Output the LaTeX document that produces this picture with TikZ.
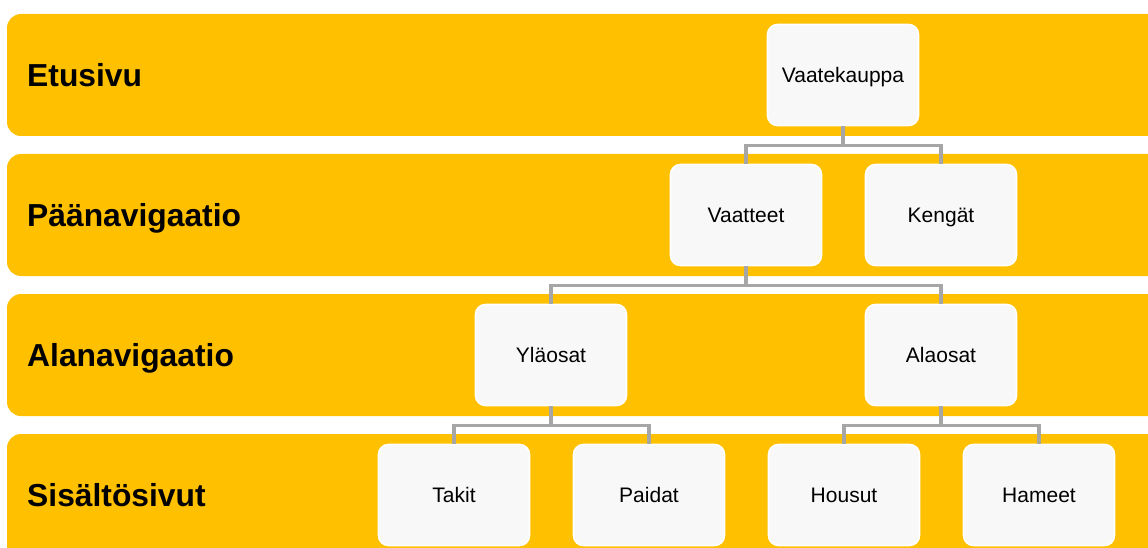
\documentclass[tikz,border=0pt]{standalone}
\usepackage{fontspec}
\setmainfont{Liberation Sans}
\begin{document}
\begin{tikzpicture}[x=1pt,y=-1pt,
  band/.style={fill=bandyellow, draw=none, rounded corners=14pt},
  bandlabel/.style={anchor=west, font=\fontsize{31.8}{36}\selectfont\bfseries, inner sep=0pt,
    text height=23pt, text depth=0pt},
  item/.style={fill=boxfill, draw=white, line width=1.6pt, rounded corners=10pt,
    minimum width=151pt, minimum height=101pt, inner sep=0pt,
    text height=15pt, text depth=0pt,
    font=\fontsize{21}{24}\selectfont},
  link/.style={draw=linkgray, line width=3.4pt}]
\definecolor{bandyellow}{HTML}{FFC000}
\definecolor{boxfill}{HTML}{F8F8F8}
\definecolor{linkgray}{HTML}{A6A6A6}
\useasboundingbox (0,0) rectangle (1148,548);
\clip (0,0) rectangle (1148,548);

% level bands
\fill[band] (7,14) rectangle (1175,136);
\fill[band] (7,154) rectangle (1175,276);
\fill[band] (7,294) rectangle (1175,416);
\fill[band] (7,434) rectangle (1175,560);

\node[bandlabel] (l1) at (27,75) {Etusivu};
\node[bandlabel] (l2) at (27,215) {Päänavigaatio};
\node[bandlabel] (l3) at (27,355) {Alanavigaatio};
\node[bandlabel] (l4) at (27,495) {Sisältösivut};

% hierarchy nodes
\node[item] (root) at (843,75) {Vaatekauppa};
\node[item] (vaatteet) at (746,215) {Vaatteet};
\node[item] (kengat) at (941,215) {Kengät};
\node[item] (ylaosat) at (551,355) {Yläosat};
\node[item] (alaosat) at (941,355) {Alaosat};
\node[item] (takit) at (454,495) {Takit};
\node[item] (paidat) at (649,495) {Paidat};
\node[item] (housut) at (844,495) {Housut};
\node[item] (hameet) at (1039,495) {Hameet};

% connectors
\draw[link] (root.south) -- ++(0,19) -| (vaatteet.north);
\draw[link] (root.south) -- ++(0,19) -| (kengat.north);
\draw[link] (vaatteet.south) -- ++(0,19) -| (ylaosat.north);
\draw[link] (vaatteet.south) -- ++(0,19) -| (alaosat.north);
\draw[link] (ylaosat.south) -- ++(0,19) -| (takit.north);
\draw[link] (ylaosat.south) -- ++(0,19) -| (paidat.north);
\draw[link] (alaosat.south) -- ++(0,19) -| (housut.north);
\draw[link] (alaosat.south) -- ++(0,19) -| (hameet.north);
\end{tikzpicture}
\end{document}
